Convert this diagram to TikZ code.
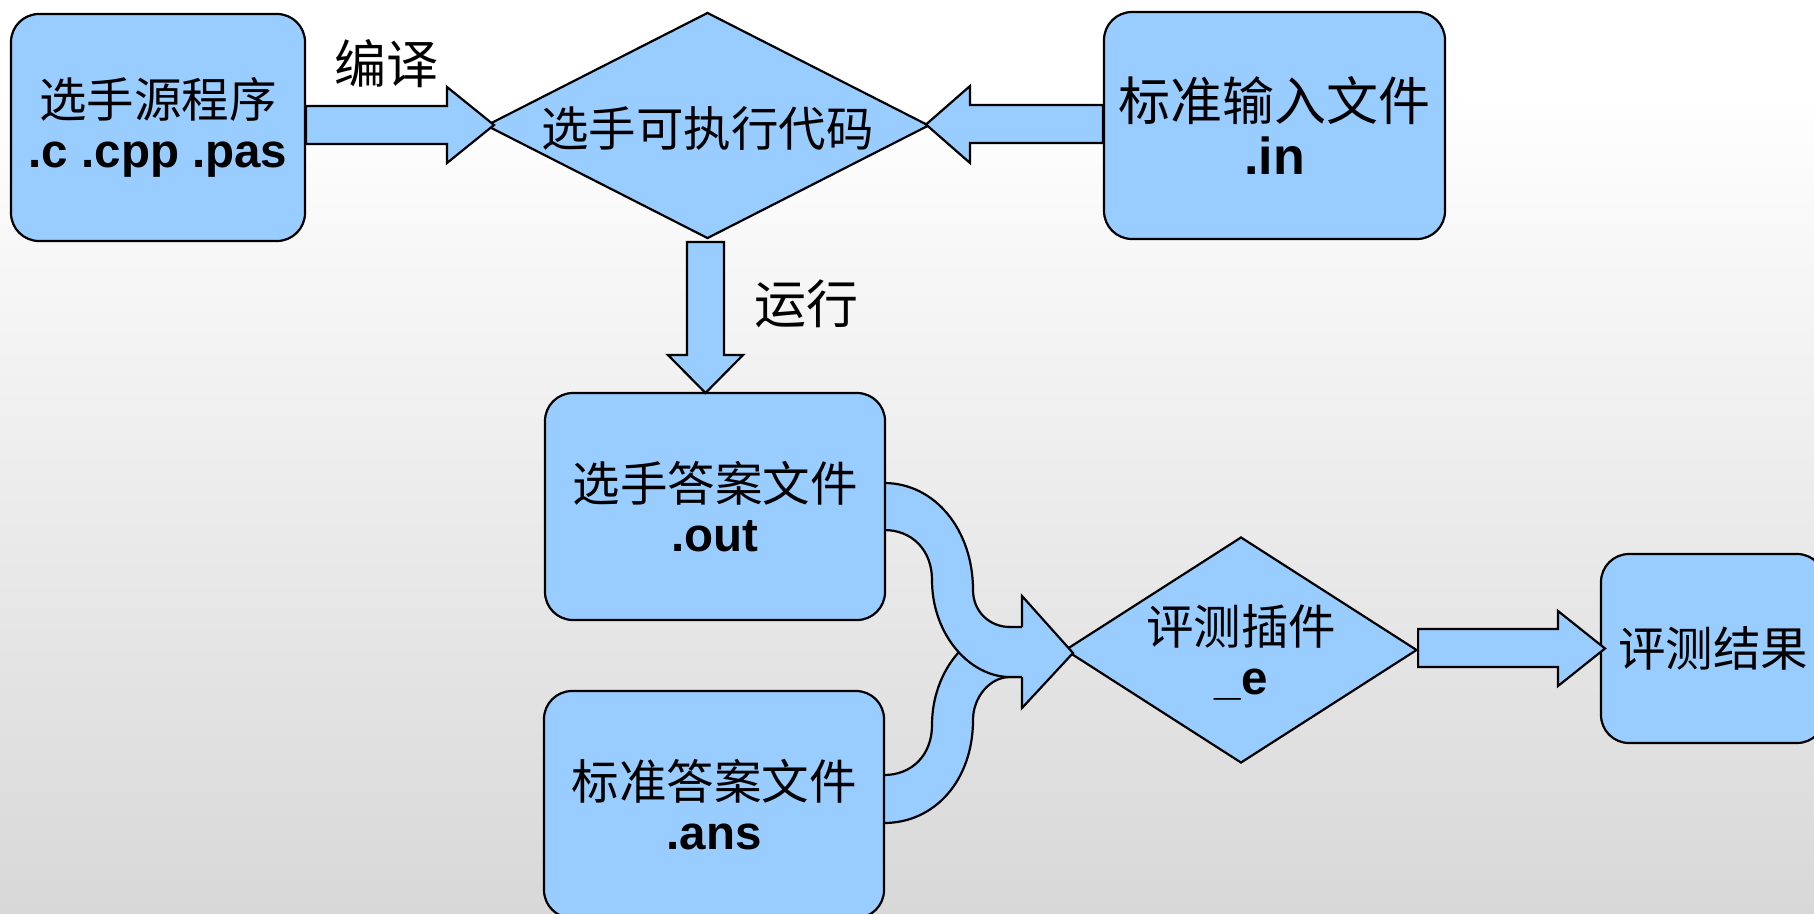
\documentclass[tikz,border=0pt]{standalone}
\usepackage{fontspec}
\setmainfont{Liberation Sans}
\newfontfamily\cjk{Noto Sans CJK SC}
\usetikzlibrary{shapes.geometric}
\definecolor{fc}{HTML}{99CCFF}
\definecolor{bgb}{HTML}{D8D8D8}
\begin{document}
\begin{tikzpicture}[x=1pt,y=-1pt,
  ol/.style={draw=black, line width=2.2pt},
  blk/.style={ol, fill=fc},
  box/.style={ol, fill=fc, rectangle, rounded corners=28pt, inner sep=0pt, align=center,
    font=\fontsize{47.5}{50}\selectfont},
  dia/.style={ol, fill=fc, diamond, inner sep=0pt},
  dlab/.style={font=\fontsize{47.5}{50}\selectfont, align=center},
  lab/.style={font=\fontsize{52}{56}\selectfont\cjk, inner sep=0pt}]
\useasboundingbox (0,0) rectangle (1814,913);
\clip (0,0) rectangle (1814,913);
% background
\fill[white] (0,0) rectangle (1814,913);
\shade[top color=white, bottom color=bgb] (0,90) rectangle (1814,913);

% merging curved arrow (lower band first, then upper band)
\fill[fc] (884,775) .. controls (912,775) and (932,755) .. (932,725)
   .. controls (932,670) and (970,627) .. (1010,627) -- (1026,627) -- (1026,677) -- (1010,677)
   .. controls (990,677) and (973,697) .. (973,720)
   .. controls (973,780) and (935,823) .. (884,823) -- cycle;
\draw[ol] (884,775) .. controls (912,775) and (932,755) .. (932,725)
   .. controls (932,670) and (970,627) .. (1010,627);
\draw[ol] (1022,677) -- (1010,677) .. controls (990,677) and (973,697) .. (973,720)
   .. controls (973,780) and (935,823) .. (884,823);
\fill[fc] (884,483) .. controls (935,483) and (973,530) .. (973,590)
   .. controls (973,612) and (990,627) .. (1010,627) -- (1026,627) -- (1026,677) -- (1010,677)
   .. controls (970,677) and (932,635) .. (932,580)
   .. controls (932,550) and (912,530) .. (884,530) -- cycle;
\draw[ol] (884,483) .. controls (935,483) and (973,530) .. (973,590)
   .. controls (973,612) and (990,627) .. (1010,627) -- (1022,627);
\draw[ol] (1022,677) -- (1010,677) .. controls (970,677) and (932,635) .. (932,580)
   .. controls (932,550) and (912,530) .. (884,530);

% boxes
\node[box, minimum width=294pt, minimum height=227pt] (src) at (158,127.5)
  {{\cjk 选手源程序}\\\textbf{.c .cpp .pas}};
\node[box, minimum width=341pt, minimum height=227pt, font=\fontsize{52}{54}\selectfont] (inp) at (1274.5,125.5)
  {{\cjk 标准输入文件}\\\textbf{.in}};
\node[box, minimum width=340pt, minimum height=227pt] (out) at (715,506.5)
  {{\cjk 选手答案文件}\\\textbf{.out}};
\node[box, minimum width=340pt, minimum height=227pt] (ans) at (714,804.5)
  {{\cjk 标准答案文件}\\\textbf{.ans}};
\node[box, minimum width=224pt, minimum height=189pt] (res) at (1713,648.5)
  {\cjk 评测结果};

% diamonds
\node[dia, minimum width=443pt, minimum height=226pt,
  label={[dlab, yshift=-3pt]center:{\cjk 选手可执行代码}}] (exe) at (707.5,125.5) {};
\node[dia, minimum width=352pt, minimum height=226pt,
  label={[dlab, yshift=-2pt]center:{{\cjk 评测插件}\\\textbf{\_e}}}] (judge) at (1241,650) {};

% head of merging arrow
\fill[fc] (1022,627) -- (1022,596) -- (1073,653) -- (1022,708) -- (1022,677) -- cycle;
\draw[ol] (1022,627) -- (1022,596) -- (1073,653) -- (1022,708) -- (1022,677);

% block arrows
\draw[blk] (src.east |- 0,106) -- (447,106) -- (447,87) -- (494,125) -- (447,163) -- (447,144) -- (src.east |- 0,144) -- cycle;
\draw[blk] (inp.west |- 0,105) -- (970,105) -- (970,86) -- (926,124.5) -- (970,163) -- (970,143) -- (inp.west |- 0,143) -- cycle;
\draw[blk] (687,242) -- (724,242) -- (724,355) -- (743,355) -- (705.5,393) -- (668,355) -- (687,355) -- cycle;
\draw[blk] (judge.east |- 0,629) -- (1558,629) -- (1558,611) -- (1605,648.5) -- (1558,686) -- (1558,667) -- (judge.east |- 0,667) -- cycle;

% connector labels
\node[lab] (lbl1) at (386,64) {编译};
\node[lab] (lbl2) at (806,304) {运行};
\end{tikzpicture}
\end{document}
